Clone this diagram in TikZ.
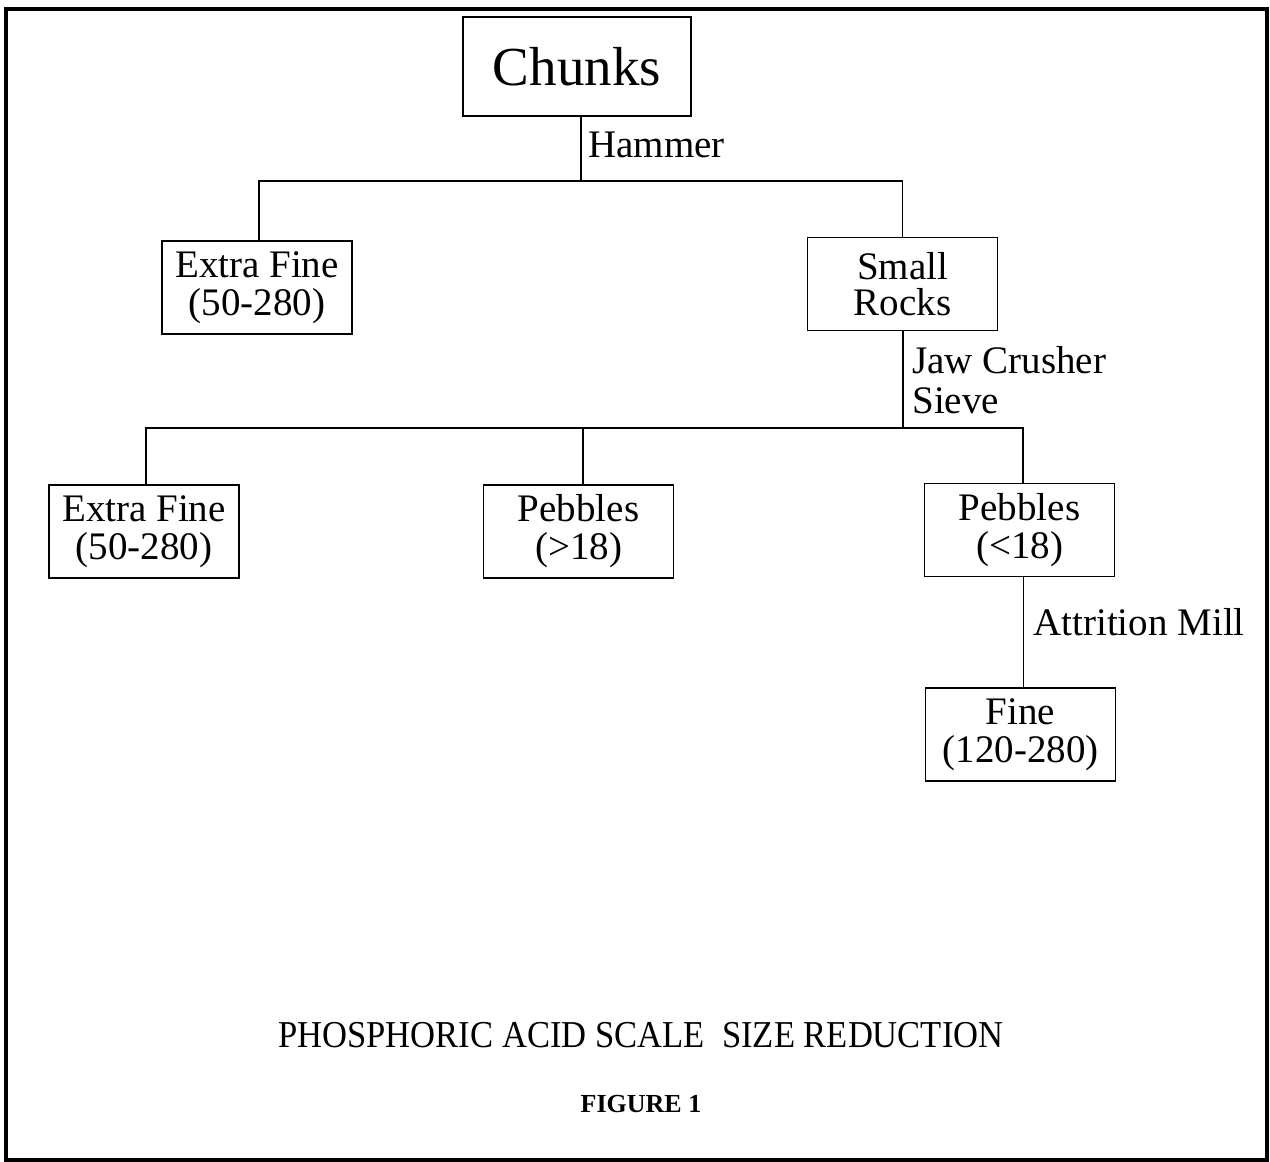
\documentclass[tikz,border=0pt]{standalone}
\usepackage{fontspec}
\setmainfont{Liberation Serif}
\begin{document}
\begin{tikzpicture}[x=0.5pt,y=-0.5pt,
  box/.style={draw, line width=0.7pt, inner sep=0pt, minimum width=95pt, minimum height=46.5pt, align=center, font=\fontsize{19.5}{19}\selectfont},
  lbl/.style={inner sep=0pt, anchor=base west, align=left, font=\fontsize{19.5}{21}\selectfont},
  conn/.style={line width=0.6pt}]
\useasboundingbox (0,0) rectangle (1270,1162);
\draw[line width=1.6pt] (6,9) rectangle (1267,1160);
% boxes
\node[box, minimum width=114pt, minimum height=49.5pt, font=\fontsize{27.5}{30}\selectfont] (chunks) at (577,66.5) {Chunks};
\node[box] (ef1) at (257,287.5) {Extra Fine\\(50-280)};
\node[box, font=\fontsize{19.5}{18}\selectfont] (sr) at (902.5,284) {Small\\Rocks};
\node[box] (ef2) at (144,531.5) {Extra Fine\\(50-280)};
\node[box] (p1) at (578.5,531.5) {Pebbles\\(>18)};
\node[box] (p2) at (1019.5,530) {Pebbles\\(<18)};
\node[box] (fine) at (1020.5,734.5) {Fine\\(120-280)};
% junctions
\coordinate (j1) at (581,181);
\coordinate (j2) at (903,428);
% connectors
\draw[conn] (chunks.south -| j1) -- (j1);
\draw[conn] ([xshift=1pt]ef1.north) |- (j1) -| (sr.north);
\draw[conn] (sr.south -| j2) -- (j2);
\draw[conn] ([xshift=1pt]ef2.north) |- (j2) -| ([xshift=1.75pt]p2.north);
\draw[conn] ([xshift=2.25pt]p1.north) -- ([xshift=2.25pt]p1.north |- j2);
\draw[conn] ([xshift=2pt]p2.south) -- ([xshift=2pt]p2.south |- fine.north);
% labels
\node[lbl] (hammer) at (588,157) {Hammer};
\node[lbl] (jaw) at (912,373) {Jaw Crusher};
\node[lbl] (sieve) at (912,413) {Sieve};
\node[lbl] (attr) at (1033,635) {Attrition Mill};
% caption
\node[inner sep=0pt, anchor=base, font=\fontsize{19}{20}\selectfont] (title) at (641,1047) {\scalebox{0.91}[1]{PHOSPHORIC ACID SCALE\ \ SIZE REDUCTION}};
\node[inner sep=0pt, anchor=base, font=\fontsize{13}{15}\selectfont\bfseries] (fig) at (641,1112) {FIGURE 1};
\end{tikzpicture}
\end{document}
